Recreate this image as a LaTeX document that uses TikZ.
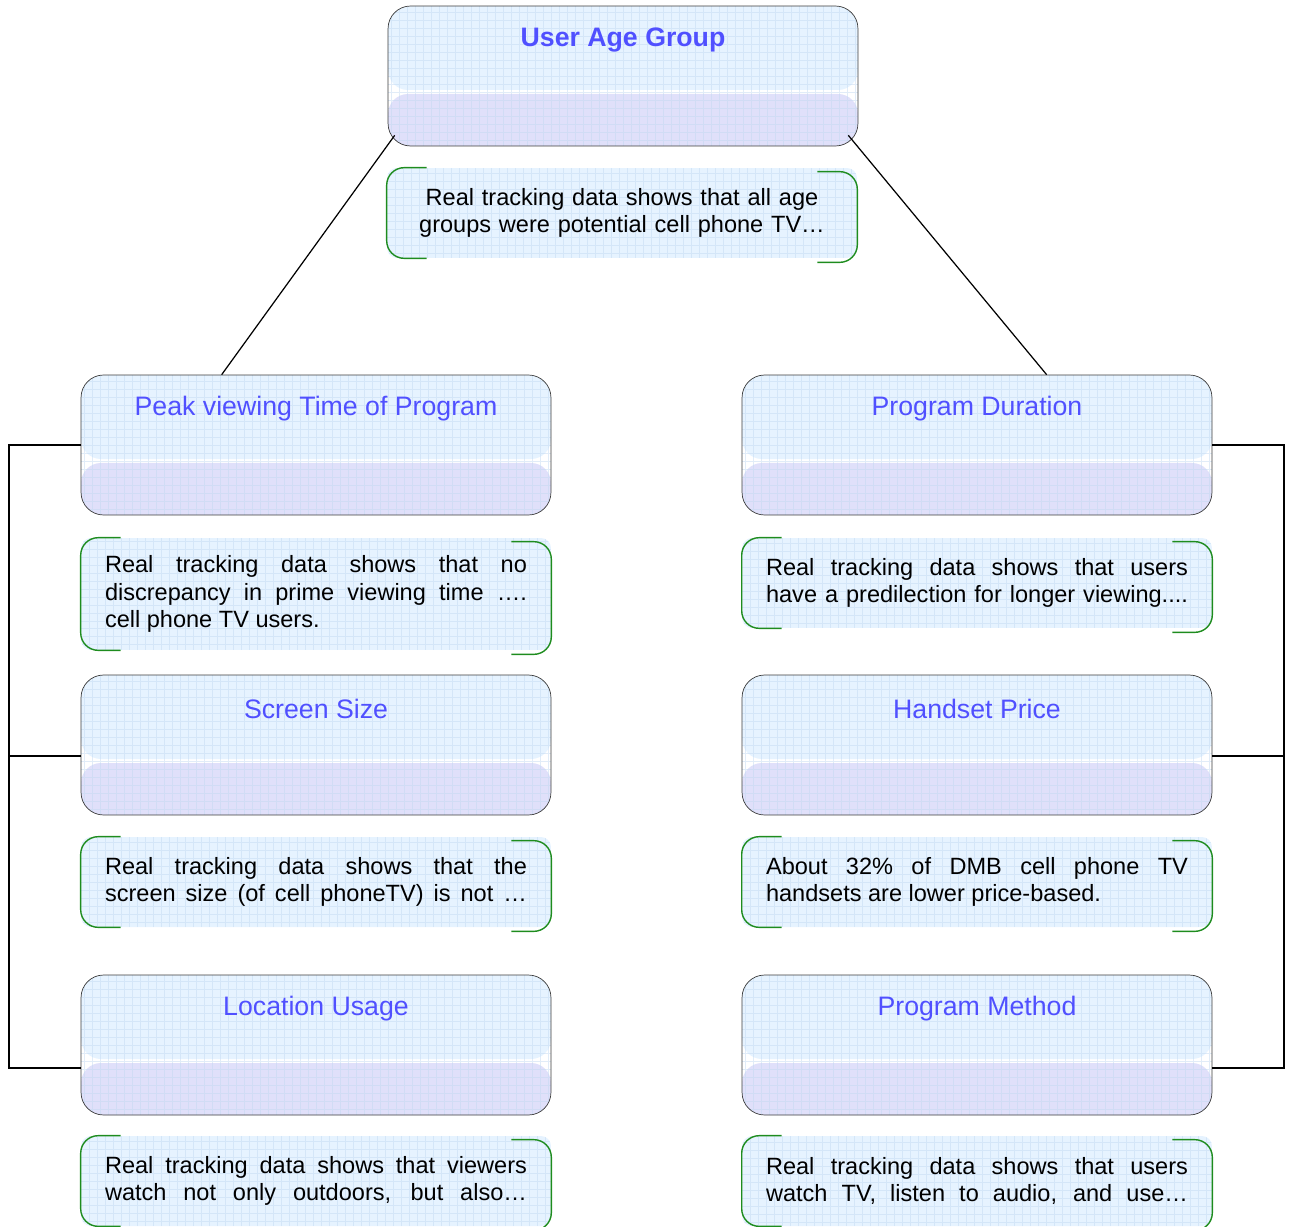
\documentclass[tikz,border=0pt]{standalone}
\usepackage{fontspec}
\setmainfont{Liberation Sans}
\usetikzlibrary{positioning}

\definecolor{titleblue}{RGB}{80,80,255}
\definecolor{skyfill}{RGB}{230,243,255}
\definecolor{lilacfill}{RGB}{224,224,250}
\definecolor{gridline}{RGB}{196,218,242}
\definecolor{boxline}{RGB}{60,60,60}
\definecolor{bracketgreen}{RGB}{30,140,30}

\tikzset{
  topic/.style={draw=boxline, rounded corners=0.45cm, minimum width=9.4cm,
    minimum height=2.8cm, fill=white,
    path picture={
      \fill[skyfill, rounded corners=0.4cm] (path picture bounding box.north west)
        rectangle ([yshift=1.12cm]path picture bounding box.south east);
      \fill[lilacfill, rounded corners=0.4cm] ([yshift=1.04cm]path picture bounding box.south west)
        rectangle (path picture bounding box.south east);
      \draw[gridline, step=0.16cm, very thin, opacity=0.5] (path picture bounding box.south west)
        grid (path picture bounding box.north east);
    },
    label={[title]north:#1}},
  title/.style={anchor=center, yshift=-0.68cm, text=titleblue,
    font=\fontsize{15.2}{18}\selectfont},
  note/.style={fill=skyfill, rounded corners=0.2cm, minimum width=9.4cm,
    minimum height=1.8cm, text width=8.44cm, align=justify, inner sep=0pt,
    font=\fontsize{13.4}{15.6}\selectfont,
    path picture={
      \draw[gridline, step=0.16cm, very thin, opacity=0.5] (path picture bounding box.south west)
        grid (path picture bounding box.north east);
    }},
  bracket/.style={draw=bracketgreen, thick, rounded corners=0.35cm},
  bus/.style={line width=1.1pt}
}

\begin{document}
\begin{tikzpicture}[x=0.02cm, y=-0.02cm]
  \useasboundingbox (0,0) rectangle (1290,1226);

  % topics
  \node[topic={\bfseries User Age Group}]        (age)      at (623, 76)  {};
  \node[topic=Peak viewing Time of Program]      (peak)     at (316, 445) {};
  \node[topic=Screen Size]                       (screen)   at (316, 745) {};
  \node[topic=Location Usage]                    (location) at (316, 1045) {};
  \node[topic=Program Duration]                  (duration) at (977, 445) {};
  \node[topic=Handset Price]                     (price)    at (977, 745) {};
  \node[topic=Program Method]                    (method)   at (977, 1045) {};

  % notes under each topic (cut ones end on a full line)
  \node[note, align=center] (agenote) at (622, 213)
    {Real tracking data shows that all age\\ groups were potential cell phone TV…};
  \node[note, minimum height=2.24cm] (peaknote) at (316, 594)
    {Real tracking data shows that no\linebreak discrepancy in prime viewing time ….\linebreak cell phone TV users.};
  \node[note] (screennote) at (316, 882)
    {Real tracking data shows that the\linebreak screen size (of cell phoneTV) is not …\parfillskip=0pt\par};
  \node[note] (locnote) at (316, 1181)
    {Real tracking data shows that viewers\linebreak watch not only outdoors, but also…\parfillskip=0pt\par};
  \node[note] (durnote) at (977, 583)
    {Real tracking data shows that users\linebreak have a predilection for longer viewing....\parfillskip=0pt\par};
  \node[note] (pricenote) at (977, 882)
    {About 32\% of DMB cell phone TV\linebreak handsets are lower price-based.};
  \node[note] (methodnote) at (977, 1181)
    {Real tracking data shows that users\linebreak watch TV, listen to audio, and use…\parfillskip=0pt\par};

  \foreach \n in {agenote,peaknote,screennote,locnote,durnote,pricenote,methodnote}{
    \draw[bracket] ([xshift=0.8cm]\n.north west) -- (\n.north west)
      -- (\n.south west) -- ([xshift=0.8cm]\n.south west);
    \draw[bracket] ([xshift=-0.8cm,yshift=-0.08cm]\n.north east) -- ([yshift=-0.08cm]\n.north east)
      -- ([yshift=-0.08cm]\n.south east) -- ([xshift=-0.8cm,yshift=-0.08cm]\n.south east);
  }

  % tree lines
  \draw[line width=0.7pt] ([xshift=0.14cm,yshift=0.22cm]age.south west) -- ([xshift=2.82cm]peak.north west);
  \draw[line width=0.7pt] ([xshift=-0.2cm,yshift=0.22cm]age.south east) -- ([xshift=6.1cm]duration.north west);
  \draw[bus] (peak.west) -- ++(-72,0) |- ([yshift=-0.46cm]location.west);
  \draw[bus] ([yshift=-0.22cm]screen.west) -- ++(-72,0);
  \draw[bus] (duration.east) -- ++(72,0) |- ([yshift=-0.46cm]method.east);
  \draw[bus] ([yshift=-0.22cm]price.east) -- ++(72,0);
\end{tikzpicture}
\end{document}
